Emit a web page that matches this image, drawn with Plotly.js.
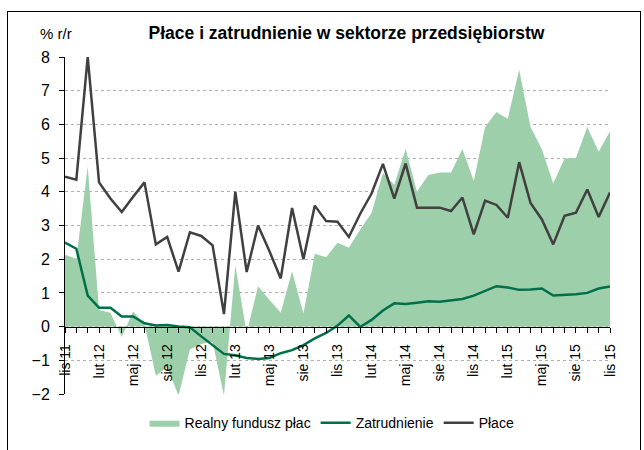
<!DOCTYPE html>
<html>
<head>
<meta charset="utf-8">
<script src="https://cdn.plot.ly/plotly-3.0.1.min.js"></script>
<style>
  html, body { margin: 0; padding: 0; background: #fff; }
  #frame { position: absolute; left: 7px; top: 11px; width: 632px; height: 460px;
           border-top: 1px solid #000; border-left: 1px solid #000; border-right: 1px solid #000; }
  #chart { position: absolute; left: 0; top: 0; width: 644px; height: 450px; }
</style>
</head>
<body>
<div id="frame"></div>
<div id="chart"></div>
<script>
const months = [
  "lis 11","gru 11",
  "sty 12","lut 12","mar 12","kwi 12","maj 12","cze 12","lip 12","sie 12","wrz 12","paź 12","lis 12","gru 12",
  "sty 13","lut 13","mar 13","kwi 13","maj 13","cze 13","lip 13","sie 13","wrz 13","paź 13","lis 13","gru 13",
  "sty 14","lut 14","mar 14","kwi 14","maj 14","cze 14","lip 14","sie 14","wrz 14","paź 14","lis 14","gru 14",
  "sty 15","lut 15","mar 15","kwi 15","maj 15","cze 15","lip 15","sie 15","wrz 15","paź 15","lis 15"
];

const tickLabels = ["lis 11","lut 12","maj 12","sie 12","lis 12","lut 13","maj 13","sie 13","lis 13",
  "lut 14","maj 14","sie 14","lis 14","lut 15","maj 15","sie 15","lis 15"];

const realnyFundusz = [
  2.13, 2.01, 4.75, 0.49, 0.41, -0.30, 0.45, 0.07, -1.46, -1.20, -2.05, -0.68, -0.52, -0.45,
  -2.05, 1.81, -0.20, 1.20, 0.80, 0.41, 1.64, 0.39, 2.16, 2.06, 2.49, 2.34,
  2.88, 3.37, 4.56, 4.21, 5.27, 4.00, 4.50, 4.57, 4.57, 5.27, 4.32, 5.92,
  6.37, 6.17, 7.62, 5.92, 5.26, 4.25, 4.99, 5.00, 5.92, 5.19, 5.80
];

const zatrudnienie = [
  2.49, 2.31, 0.92, 0.56, 0.56, 0.30, 0.30, 0.10, 0.03, 0.05, 0.00, -0.02, -0.29, -0.55,
  -0.81, -0.85, -0.93, -0.96, -0.93, -0.79, -0.70, -0.55, -0.35, -0.19, 0.03, 0.33,
  -0.01, 0.20, 0.48, 0.69, 0.67, 0.71, 0.75, 0.74, 0.77, 0.82, 0.92, 1.05,
  1.20, 1.16, 1.09, 1.10, 1.13, 0.92, 0.93, 0.96, 1.00, 1.13, 1.19
];

const place = [
  4.45, 4.36, 8.00, 4.28, 3.80, 3.40, 3.85, 4.28, 2.44, 2.66, 1.63, 2.80, 2.69, 2.41,
  0.37, 4.00, 1.62, 3.00, 2.24, 1.43, 3.52, 2.00, 3.59, 3.13, 3.11, 2.66,
  3.35, 3.95, 4.83, 3.80, 4.84, 3.53, 3.53, 3.53, 3.43, 3.83, 2.74, 3.74,
  3.61, 3.23, 4.88, 3.67, 3.18, 2.44, 3.29, 3.38, 4.07, 3.25, 3.98
];

const tickText = months.map(m => tickLabels.includes(m) ? m : "");

const FONT = "Liberation Sans, Arial, sans-serif";

const traces = [
  {
    x: months, y: realnyFundusz, name: "Realny fundusz płac", type: "scatter", mode: "lines",
    fill: "tozeroy", fillcolor: "#9dcfab", line: { width: 0, color: "#9dcfab" }
  },
  {
    x: months, y: zatrudnienie, name: "Zatrudnienie", type: "scatter", mode: "lines",
    line: { width: 2.5, color: "#00704a" }
  },
  {
    x: months, y: place, name: "Płace", type: "scatter", mode: "lines",
    line: { width: 2.5, color: "#404040" }
  }
];

const layout = {
  width: 644, height: 450,
  margin: { l: 65, r: 34, t: 57, b: 55 },
  paper_bgcolor: "rgba(0,0,0,0)", plot_bgcolor: "rgba(0,0,0,0)",
  font: { family: FONT, color: "#000", size: 14 },
  title: {
    text: "<b>Płace i zatrudnienie w sektorze przedsiębiorstw</b>",
    font: { family: FONT, size: 17.5, color: "#000" },
    xref: "container", x: 0.538, xanchor: "center",
    yref: "container", y: 1 - 33 / 450, yanchor: "middle"
  },
  xaxis: {
    type: "category", range: [0, 48],
    anchor: "free", position: 0.2,
    showline: true, linecolor: "#000", linewidth: 1,
    ticks: "outside", ticklen: 5, tickcolor: "#000", tickwidth: 1,
    tickmode: "array", tickvals: months, ticktext: tickText,
    tickangle: -90, tickfont: { size: 14, family: FONT, color: "#000" },
    ticklabelstandoff: 6,
    showgrid: false, zeroline: false, fixedrange: true
  },
  yaxis: {
    range: [-2, 8], dtick: 1, tick0: 0,
    showline: true, linecolor: "#000", linewidth: 1,
    ticks: "outside", ticklen: 5, tickcolor: "#000",
    tickfont: { size: 16, family: FONT, color: "#000" },
    ticklabelstandoff: 6,
    showgrid: true, gridcolor: "#b0b0b0", griddash: "dot", gridwidth: 1,
    zeroline: false, fixedrange: true
  },
  showlegend: true,
  legend: {
    orientation: "h", x: 0.49, xanchor: "center", y: -0.083, yanchor: "middle",
    font: { family: FONT, size: 14, color: "#000" },
    traceorder: "normal", itemwidth: 30, bgcolor: "rgba(0,0,0,0)"
  },
  annotations: [
    {
      text: "% r/r", xref: "paper", yref: "paper",
      x: (38 - 65) / 545, xanchor: "left", y: (395 - 33) / 338, yanchor: "middle",
      showarrow: false, font: { family: FONT, size: 15, color: "#000" }
    }
  ]
};

Plotly.newPlot("chart", traces, layout, { displayModeBar: false, staticPlot: true });
</script>
</body>
</html>
